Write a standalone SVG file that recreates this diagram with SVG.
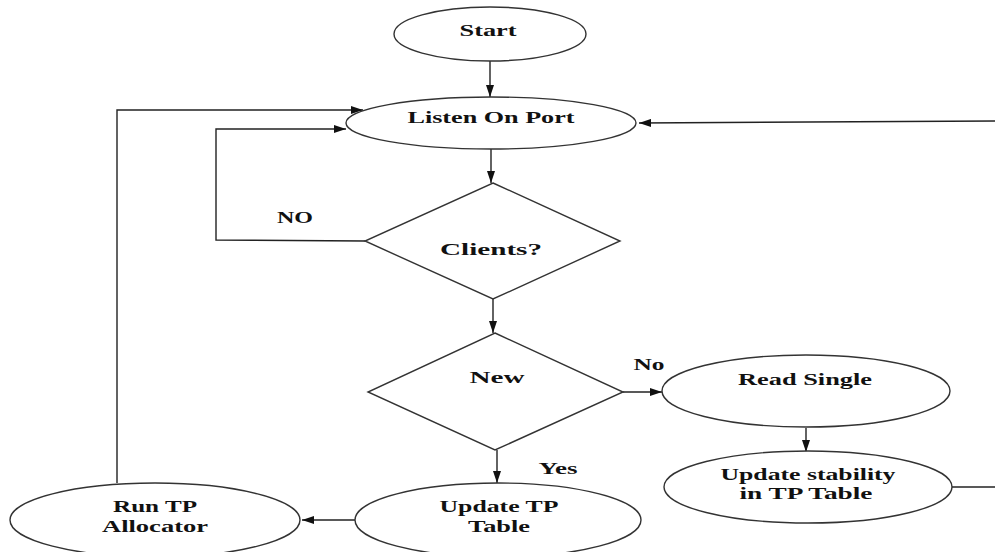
<svg xmlns="http://www.w3.org/2000/svg" width="995" height="552" viewBox="0 0 995 552">
<style>
.s{fill:#fff;stroke:#333;stroke-width:1.4}
.c{fill:none;stroke:#222;stroke-width:1.4}
text{font-family:"Liberation Serif","Times New Roman",serif;font-weight:bold;font-size:17px;fill:#111;text-anchor:middle}
</style>
<defs>
<marker id="a" markerWidth="12" markerHeight="8" refX="12" refY="4" orient="auto" markerUnits="userSpaceOnUse">
<path d="M0,0 L12,4 L0,8 Z" fill="#111"/>
</marker>
</defs>
<rect width="995" height="552" fill="#fff"/>
<g id="connectors">
<line class="c" x1="490" y1="61" x2="490" y2="97" marker-end="url(#a)"/>
<line class="c" x1="491" y1="149" x2="491" y2="183" marker-end="url(#a)"/>
<line class="c" x1="493" y1="299" x2="493" y2="333" marker-end="url(#a)"/>
<polyline class="c" points="365,241 216,240 216,129 346,129" marker-end="url(#a)"/>
<polyline class="c" points="117,483 117,110 363,110" marker-end="url(#a)"/>
<line class="c" x1="995" y1="121" x2="639" y2="123" marker-end="url(#a)"/>
<line class="c" x1="623" y1="392" x2="662" y2="392" marker-end="url(#a)"/>
<line class="c" x1="806" y1="428" x2="806" y2="452" marker-end="url(#a)"/>
<line class="c" x1="497" y1="450" x2="497" y2="483" marker-end="url(#a)"/>
<line class="c" x1="355" y1="520" x2="302" y2="520" marker-end="url(#a)"/>
<line class="c" x1="952" y1="487" x2="995" y2="487"/>
<text x="295" y="223" textLength="36" lengthAdjust="spacingAndGlyphs">NO</text>
<text x="649" y="370" textLength="31" lengthAdjust="spacingAndGlyphs">No</text>
<text x="558" y="474" textLength="39" lengthAdjust="spacingAndGlyphs">Yes</text>
</g>
<g id="start">
<ellipse class="s" cx="490" cy="34" rx="96" ry="27"/>
<text x="488" y="36" textLength="57" lengthAdjust="spacingAndGlyphs">Start</text>
</g>
<g id="listen">
<ellipse class="s" cx="491" cy="123" rx="145" ry="26"/>
<text x="491" y="123" textLength="167" lengthAdjust="spacingAndGlyphs">Listen On Port</text>
</g>
<g id="clients">
<polygon class="s" points="493,183 620,241 493,299 365,241"/>
<text x="491" y="255" textLength="102" lengthAdjust="spacingAndGlyphs">Clients?</text>
</g>
<g id="new">
<polygon class="s" points="495,333 623,392 495,450 368,392"/>
<text x="497" y="383" textLength="55" lengthAdjust="spacingAndGlyphs">New</text>
</g>
<g id="read-single">
<ellipse class="s" cx="806" cy="391" rx="144" ry="36"/>
<text x="805" y="385" textLength="134" lengthAdjust="spacingAndGlyphs">Read Single</text>
</g>
<g id="update-stability">
<ellipse class="s" cx="808" cy="487" rx="144" ry="36"/>
<text x="808" y="480" textLength="175" lengthAdjust="spacingAndGlyphs">Update stability</text>
<text x="806" y="499" textLength="133" lengthAdjust="spacingAndGlyphs">in TP Table</text>
</g>
<g id="update-tp-table">
<ellipse class="s" cx="498" cy="520" rx="143" ry="37"/>
<text x="499" y="512" textLength="119" lengthAdjust="spacingAndGlyphs">Update TP</text>
<text x="499" y="532" textLength="62" lengthAdjust="spacingAndGlyphs">Table</text>
</g>
<g id="run-tp-allocator">
<ellipse class="s" cx="155" cy="520" rx="145" ry="37"/>
<text x="155" y="512" textLength="84" lengthAdjust="spacingAndGlyphs">Run TP</text>
<text x="155" y="532" textLength="106" lengthAdjust="spacingAndGlyphs">Allocator</text>
</g>
</svg>
